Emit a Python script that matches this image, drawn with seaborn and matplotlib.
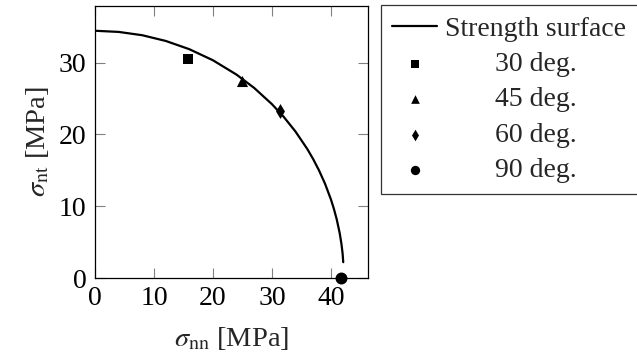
import matplotlib
matplotlib.use("Agg")
import matplotlib.pyplot as plt
import seaborn as sns
import pandas as pd

# Strength surface
surf_nn = [0, 4, 8, 12, 16, 20, 24, 27, 30, 32, 34, 36, 37, 38, 39, 40, 40.5, 41, 41.5, 41.8, 42.0, 42.1]
surf_nt = [34.45, 34.29, 33.83, 33.03, 31.88, 30.34, 28.34, 26.48, 24.23, 22.46, 20.41, 17.98, 16.57,
           14.98, 13.16, 10.98, 9.68, 8.16, 6.25, 4.73, 3.35, 2.2]

# Test points
labels = ["30 deg.", "45 deg.", "60 deg.", "90 deg."]
pt_nn = [15.7, 25.0, 31.4, 41.8]
pt_nt = [30.5, 27.5, 23.3, 0.0]
markers = ["s", "^", "d", "o"]
msizes = [7.3, 8.0, 7.6, 8.6]

xticks = [0, 10, 20, 30, 40]
yticks = [0, 10, 20, 30]

sns.set_style("ticks")
plt.rcParams["font.family"] = ["Liberation Serif", "DejaVu Serif"]
plt.rcParams["mathtext.fontset"] = "stix"
FS = 20

fig = plt.figure(figsize=(6.37, 3.56), dpi=100)
ax = fig.add_axes([95 / 637, 1 - 278 / 356, (368 - 95) / 637, (278 - 6) / 356])

surf = pd.DataFrame({"nn": surf_nn, "nt": surf_nt})
sns.lineplot(data=surf, x="nn", y="nt", sort=False, estimator=None, color="black",
             linewidth=1.6, ax=ax, label="Strength surface")
for lab, x, y, m, s in zip(labels, pt_nn, pt_nt, markers, msizes):
    d = pd.DataFrame({"nn": [x], "nt": [y]})
    sns.scatterplot(data=d, x="nn", y="nt", marker=m, s=s ** 2, color="black",
                    edgecolor="black", linewidth=0, ax=ax, label=lab, clip_on=False, zorder=5)

ax.set_xlim(0, 46.3)
ax.set_ylim(0, 37.9)
ax.set_xticks(xticks)
ax.set_yticks(yticks)
ax.tick_params(direction="in", length=7, width=0.8, color="#808080", top=True, right=True,
               labelsize=FS, pad=6, labelcolor="black")
for sp in ax.spines.values():
    sp.set_visible(True)
    sp.set_color("black")
    sp.set_linewidth(0.9)
ax.set_xlabel(r"$\sigma_{\mathrm{nn}}$ [MPa]", fontsize=FS + 0.5, labelpad=10)
ax.set_ylabel(r"$\sigma_{\mathrm{nt}}$ [MPa]", fontsize=FS + 0.5, labelpad=6)

leg = ax.legend(loc="upper left", bbox_to_anchor=(381 / 637, 1 - 5 / 356),
                bbox_transform=fig.transFigure, borderaxespad=0, fontsize=FS,
                frameon=True, fancybox=False, edgecolor="#333333", framealpha=1,
                handlelength=1.62, handletextpad=0.3, labelspacing=0.36, borderpad=0.4,
                markerscale=0.78)
leg.get_frame().set_linewidth(0.9)

# centre legend texts in their column
fig.canvas.draw()
r = fig.canvas.get_renderer()
texts = leg.get_texts()
ws = [t.get_window_extent(r).width for t in texts]
W = max(ws)
for t, w in zip(texts, ws):
    t.set_x((W - w) / 2)

fig.savefig("out.png", dpi=100)
